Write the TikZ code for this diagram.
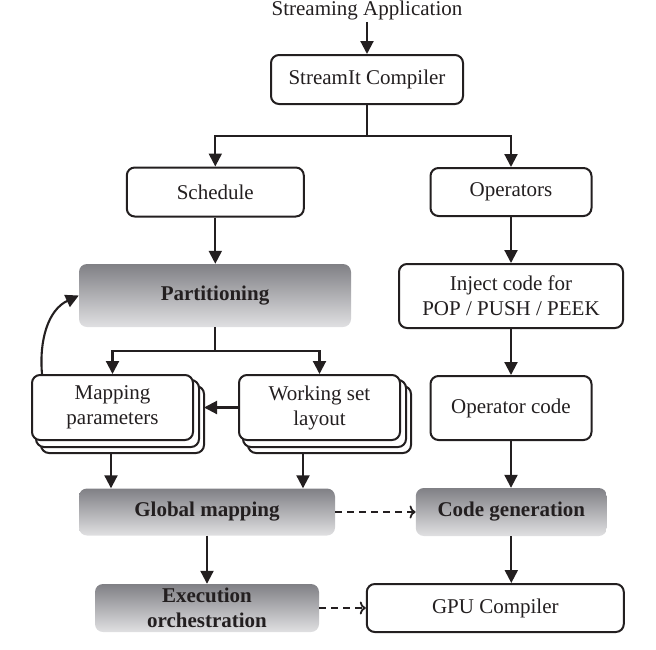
\documentclass[tikz,border=0pt]{standalone}
\usepackage{fontspec}
\setmainfont{Liberation Serif}
\usetikzlibrary{arrows.meta,backgrounds}
\definecolor{ink}{HTML}{231F20}
\definecolor{gtop}{RGB}{128,128,133}
\definecolor{gbot}{RGB}{224,224,226}
\begin{document}
\begin{tikzpicture}[x=1pt,y=-1pt,
  every node/.style={font=\fontsize{21}{25}\selectfont, text=ink, inner sep=0pt, align=center},
  wbox/.style={draw=ink, line width=2pt, rounded corners=8pt, fill=white, rectangle},
  gbox/.style={rectangle, rounded corners=8pt, top color=gtop, bottom color=gbot, font=\fontsize{21}{25}\selectfont\bfseries},
  layer/.style={draw=ink, line width=2pt, rounded corners=8pt, fill=white},
  plain/.style={draw=ink, line width=2.1pt},
  arr/.style={draw=ink, line width=2.1pt, -{Triangle[length=13pt,width=13pt]}},
  darr/.style={draw=ink, line width=1.8pt, dash pattern=on 7pt off 5pt, -{To[length=6pt,width=13pt,line width=1.8pt]}}
]
\useasboundingbox (0,0) rectangle (656,649);

\node[inner sep=2pt] (app) at (367,10) {Streaming Application};
\node[wbox, minimum width=192pt, minimum height=49pt] (sc) at (367,79.5) {StreamIt Compiler};
\node[wbox, minimum width=177pt, minimum height=49pt] (sched) at (215.3,192) {Schedule};
\node[wbox, minimum width=161pt, minimum height=48pt] (ops) at (511,192) {Operators};
\node[gbox, minimum width=272pt, minimum height=63pt] (part) at (215,295.5) {Partitioning};
\node[wbox, minimum width=224pt, minimum height=64pt] (inj) at (511,296) {Inject code for\\POP / PUSH / PEEK};
\node[wbox, minimum width=161pt, minimum height=65pt] (mp) at (112.5,407.5) {Mapping\\parameters};
\node[wbox, minimum width=161pt, minimum height=65pt] (ws) at (319.5,407.5) {Working set\\layout};
\node[wbox, minimum width=161pt, minimum height=64pt] (opc) at (511,408) {Operator code};
\node[gbox, minimum width=256pt, minimum height=47pt] (gm) at (207,512) {Global mapping};
\node[gbox, minimum width=191pt, minimum height=48pt] (cg) at (511.3,512) {Code generation};
\node[gbox, minimum width=224pt, minimum height=48pt] (ex) at (207,608) {Execution\\orchestration};
\node[wbox, minimum width=257pt, minimum height=48pt] (gpu) at (495.3,608) {GPU Compiler};

\begin{scope}[on background layer]
  \foreach \n in {mp,ws}{
    \draw[layer] ([shift={(10,12)}]\n.north west) rectangle ([shift={(10,12)}]\n.south east);
    \draw[layer] ([shift={(5,6)}]\n.north west) rectangle ([shift={(5,6)}]\n.south east);
  }
\end{scope}

\coordinate (j1) at (367,136);
\coordinate (j2) at (215,351);

\draw[arr] (app.south) -- (sc.north);
\draw[plain] (sc.south) -- (j1);
\draw[arr] (j1) -| (sched.north);
\draw[arr] (j1) -| (ops.north);
\draw[arr] (sched.south) -- (sched.south |- part.north);
\draw[arr] (ops.south) -- (ops.south |- inj.north);
\draw[plain] (part.south) -- (j2);
\draw[arr] (j2) -| (mp.north);
\draw[arr] (j2) -| (ws.north);
\draw[arr] (ws.west) -- ([xshift=10pt]mp.east);
\draw[arr] ([xshift=11pt]mp.north west) to[out=95,in=205] (part.west);
\draw[arr] (inj.south) -- (inj.south |- opc.north);
\draw[arr] ([shift={(-1.5,12)}]mp.south) -- ([xshift=-1.5pt]mp.south |- gm.north);
\draw[arr] ([shift={(-16.5,12)}]ws.south) -- ([xshift=-16.5pt]ws.south |- gm.north);
\draw[arr] (opc.south) -- (opc.south |- cg.north);
\draw[arr] (gm.south) -- (gm.south |- ex.north);
\draw[arr] (cg.south) -- (cg.south |- gpu.north);
\draw[darr] (gm.east) -- (cg.west);
\draw[darr] (ex.east) -- (gpu.west);
\end{tikzpicture}
\end{document}
